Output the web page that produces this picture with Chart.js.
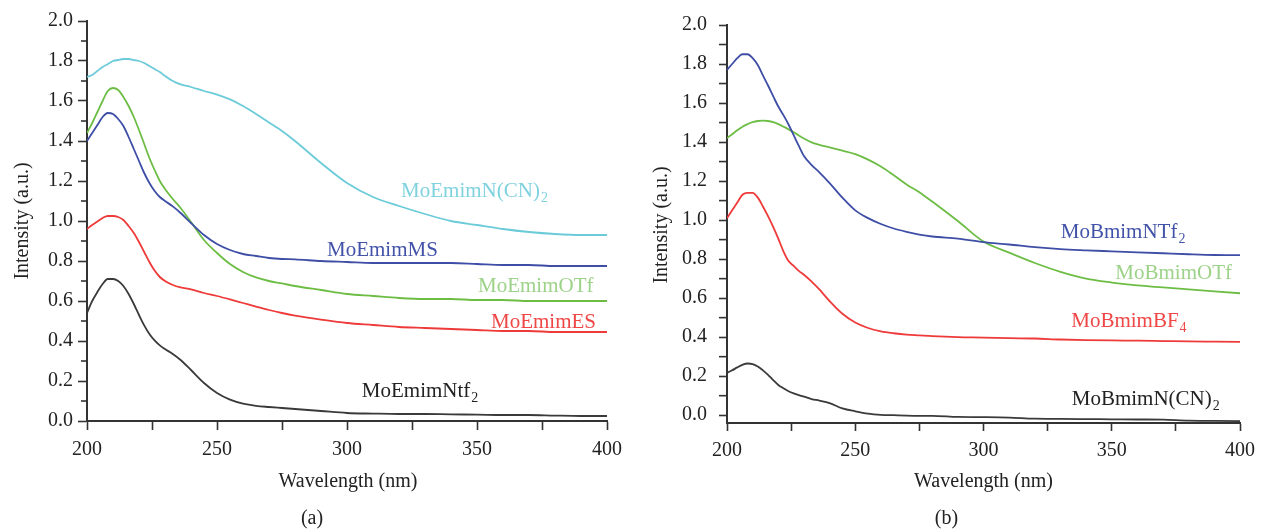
<!DOCTYPE html>
<html><head><meta charset="utf-8">
<script src="https://cdn.jsdelivr.net/npm/chart.js@4.4.1/dist/chart.umd.min.js"></script>
<style>
html,body{margin:0;padding:0;background:#fff;overflow:hidden;}
#wrap{position:relative;width:1263px;height:531px;background:#fff;}
canvas{position:absolute;top:0;}
</style></head><body>
<div id="wrap">
<canvas id="ca" width="640" height="531" style="left:0px"></canvas>
<canvas id="cb" width="623" height="531" style="left:640px"></canvas>
</div>
<script>
// ---------- data ----------
const wavelengths = [200,202,204,206,208,210,212,214,216,218,220,222,224,226,228,230,233,236,240,245,250,255,260,265,270,275,280,290,300,310,320,330,340,350,360,370,380,390,400];
const xTicks = [200,225,250,275,300,325,350,375,400];
const yTicks = [0.0,0.2,0.4,0.6,0.8,1.0,1.2,1.4,1.6,1.8,2.0];
const yMinorTicks = [0.1,0.3,0.5,0.7,0.9,1.1,1.3,1.5,1.7,1.9];

// panel (a)
const emimNCN2 = [1.72,1.73,1.75,1.77,1.785,1.80,1.805,1.81,1.81,1.805,1.80,1.79,1.775,1.76,1.745,1.725,1.70,1.683,1.67,1.65,1.632,1.608,1.575,1.535,1.493,1.45,1.40,1.29,1.19,1.12,1.075,1.035,1.00,0.98,0.96,0.945,0.935,0.93,0.93];
const emimMS = [1.40,1.44,1.48,1.52,1.54,1.535,1.51,1.475,1.42,1.36,1.30,1.24,1.19,1.15,1.12,1.10,1.073,1.04,0.99,0.93,0.885,0.855,0.835,0.825,0.815,0.81,0.808,0.80,0.795,0.79,0.79,0.79,0.79,0.785,0.78,0.78,0.775,0.775,0.775];
const emimOTf = [1.44,1.49,1.545,1.60,1.65,1.665,1.655,1.62,1.575,1.52,1.455,1.385,1.315,1.255,1.20,1.16,1.11,1.065,0.995,0.905,0.84,0.785,0.745,0.718,0.70,0.688,0.675,0.655,0.635,0.625,0.615,0.61,0.61,0.605,0.605,0.60,0.60,0.60,0.60];
const emimES = [0.96,0.98,0.998,1.015,1.025,1.025,1.02,1.005,0.975,0.94,0.895,0.845,0.795,0.752,0.72,0.70,0.68,0.668,0.658,0.64,0.625,0.608,0.59,0.572,0.555,0.54,0.527,0.507,0.49,0.48,0.47,0.465,0.46,0.455,0.45,0.45,0.445,0.445,0.445];
const emimNtf2 = [0.54,0.60,0.645,0.685,0.71,0.71,0.70,0.675,0.635,0.585,0.53,0.478,0.435,0.403,0.378,0.36,0.335,0.305,0.255,0.19,0.14,0.107,0.087,0.076,0.07,0.065,0.06,0.05,0.04,0.037,0.035,0.035,0.033,0.032,0.03,0.03,0.027,0.025,0.025];

// panel (b)
const bmimNTf2 = [1.77,1.80,1.83,1.85,1.85,1.83,1.795,1.742,1.69,1.635,1.582,1.538,1.49,1.435,1.38,1.328,1.282,1.245,1.19,1.115,1.05,1.01,0.98,0.957,0.94,0.926,0.916,0.905,0.887,0.875,0.861,0.851,0.845,0.84,0.835,0.83,0.825,0.821,0.82];
const bmimOTf = [1.42,1.44,1.46,1.478,1.492,1.502,1.508,1.51,1.508,1.502,1.492,1.479,1.465,1.45,1.434,1.418,1.398,1.386,1.373,1.356,1.338,1.31,1.275,1.23,1.183,1.143,1.095,0.995,0.89,0.833,0.78,0.735,0.70,0.68,0.665,0.655,0.645,0.635,0.625];
const bmimBF4 = [1.01,1.05,1.09,1.13,1.14,1.14,1.115,1.07,1.02,0.965,0.905,0.84,0.79,0.765,0.74,0.72,0.685,0.645,0.585,0.52,0.475,0.447,0.43,0.42,0.413,0.409,0.405,0.40,0.398,0.395,0.393,0.388,0.385,0.383,0.382,0.38,0.378,0.377,0.376];
const bmimNCN2 = [0.217,0.23,0.245,0.258,0.265,0.262,0.25,0.23,0.207,0.18,0.155,0.138,0.123,0.112,0.103,0.095,0.083,0.075,0.062,0.035,0.02,0.008,0.002,0.0,-0.002,-0.003,-0.003,-0.009,-0.01,-0.012,-0.018,-0.019,-0.02,-0.021,-0.022,-0.023,-0.028,-0.029,-0.03];

const namesA = ['MoEmimN(CN)','MoEmimMS','MoEmimOTf','MoEmimES','MoEmimNtf'];
const subsA  = ['2','','','','2'];
const namesB = ['MoBmimNTf','MoBmimOTf','MoBmimBF','MoBmimN(CN)'];
const subsB  = ['2','','4','2'];

// ---------- styling / layout ----------
const FONT = '"Liberation Serif", "Times New Roman", serif';
const C = {
  cyan:  {line:'#6ccbd9', text:'#7fd2de'},
  blue:  {line:'#3e4ea6', text:'#4252a8'},
  green: {line:'#6dbd45', text:'#9dd289'},
  red:   {line:'#ef3a3a', text:'#ef4646'},
  black: {line:'#3a3a3a', text:'#222222'}
};

function pts(ys){ return wavelengths.map((w,i)=>({x:w, y:ys[i]})); }
function ds(ys, col){
  return {data: pts(ys), borderColor: col.line, borderWidth: 1.8, pointRadius: 0,
          fill: false, cubicInterpolationMode: 'monotone'};
}

function decorPlugin(cfg){
  return {
    id: 'decor',
    afterDraw(chart){
      const {ctx, chartArea: ca, scales} = chart;
      const x = scales.x, y = scales.y;
      ctx.save();
      // minor ticks
      ctx.strokeStyle = '#333'; ctx.lineWidth = 1.6;
      yMinorTicks.forEach(v => {
        const py = y.getPixelForValue(v);
        ctx.beginPath(); ctx.moveTo(ca.left - cfg.minorLen, py); ctx.lineTo(ca.left, py); ctx.stroke();
      });
      // series labels
      cfg.labels.forEach(l => {
        const px = x.getPixelForValue(l.x), py = y.getPixelForValue(l.y);
        ctx.fillStyle = l.color;
        ctx.font = '21px ' + FONT;
        ctx.textAlign = 'left'; ctx.textBaseline = 'alphabetic';
        ctx.fillText(l.text, px, py);
        if (l.sub) {
          const w = ctx.measureText(l.text).width;
          ctx.font = '14px ' + FONT;
          ctx.fillText(l.sub, px + w + 1, py + 5);
        }
      });
      // axis titles
      ctx.fillStyle = '#222';
      ctx.font = '20px ' + FONT;
      ctx.textAlign = 'center'; ctx.textBaseline = 'alphabetic';
      const cx = (ca.left + ca.right) / 2;
      ctx.fillText('Wavelength (nm)', cx + cfg.xTitleDx, 487);
      ctx.fillText(cfg.caption, cx + cfg.capDx, 524);
      ctx.save();
      ctx.translate(ca.left - cfg.yTitleOff, (ca.top + ca.bottom) / 2 + cfg.yTitleDy);
      ctx.rotate(-Math.PI / 2);
      ctx.fillText('Intensity (a.u.)', 0, 0);
      ctx.restore();
      ctx.restore();
    }
  };
}

function makeChart(id, datasets, o){
  return new Chart(document.getElementById(id), {
    type: 'line',
    data: {datasets},
    options: {
      responsive: false, animation: false, devicePixelRatio: 1,
      layout: {padding: {left: 0, top: o.padTop, right: o.padRight, bottom: 0}},
      plugins: {legend: {display: false}, tooltip: {enabled: false}},
      scales: {
        x: {
          type: 'linear', min: 200, max: 400, bounds: 'data',
          afterBuildTicks: s => { s.ticks = xTicks.map(v => ({value: v})); },
          afterFit: s => { s.height = o.xHeight; },
          ticks: {autoSkip: false, maxRotation: 0, padding: 8, color: '#222',
                  font: {family: FONT, size: 20},
                  callback: v => (v % 50 === 0 ? String(v) : '')},
          grid: {drawOnChartArea: false, drawTicks: true, tickLength: o.xTickLen, tickWidth: 1.6, tickColor: '#333'},
          border: {display: true, color: '#333', width: 2}
        },
        y: {
          type: 'linear', min: o.yMin, max: 2.0, bounds: 'data',
          afterBuildTicks: s => { s.ticks = yTicks.map(v => ({value: v})); },
          afterFit: s => { s.width = 87; },
          ticks: {padding: o.yPad, color: '#222', font: {family: FONT, size: 20},
                  callback: v => Number(v).toFixed(1)},
          grid: {drawOnChartArea: false, drawTicks: true, tickLength: o.yTickLen, tickWidth: 1.6, tickColor: '#333'},
          border: {display: true, color: '#333', width: 2}
        }
      }
    },
    plugins: [decorPlugin(o.decor)]
  });
}

makeChart('ca', [
  ds(emimNCN2, C.cyan), ds(emimMS, C.blue), ds(emimOTf, C.green), ds(emimES, C.red), ds(emimNtf2, C.black)
], {
  padTop: 21, padRight: 33, xHeight: 110, yMin: 0, yPad: 5, xTickLen: 9, yTickLen: 9,
  decor: {
    minorLen: 6, xTitleDx: 1, capDx: -35, yTitleOff: 59, yTitleDy: 0, caption: '(a)',
    labels: [
      {text: namesA[0], sub: subsA[0], x: 320.8, y: 1.12, color: C.cyan.text},
      {text: namesA[1], sub: subsA[1], x: 292.3, y: 0.825, color: C.blue.text},
      {text: namesA[2], sub: subsA[2], x: 350.4, y: 0.647, color: C.green.text},
      {text: namesA[3], sub: subsA[3], x: 355.4, y: 0.465, color: C.red.text},
      {text: namesA[4], sub: subsA[4], x: 305.7, y: 0.12, color: C.black.text}
    ]
  }
});

makeChart('cb', [
  ds(bmimNTf2, C.blue), ds(bmimOTf, C.green), ds(bmimBF4, C.red), ds(bmimNCN2, C.black)
], {
  padTop: 25, padRight: 19, xHeight: 108, yMin: -0.04, yPad: 12, xTickLen: 8, yTickLen: 8,
  decor: {
    minorLen: 8, xTitleDx: 0, capDx: -37, yTitleOff: 60, yTitleDy: 1, caption: '(b)',
    labels: [
      {text: namesB[0], sub: subsB[0], x: 330.1, y: 0.906, color: C.blue.text},
      {text: namesB[1], sub: subsB[1], x: 351.4, y: 0.70, color: C.green.text},
      {text: namesB[2], sub: subsB[2], x: 334.2, y: 0.453, color: C.red.text},
      {text: namesB[3], sub: subsB[3], x: 334.4, y: 0.051, color: C.black.text}
    ]
  }
});
</script>
</body></html>
